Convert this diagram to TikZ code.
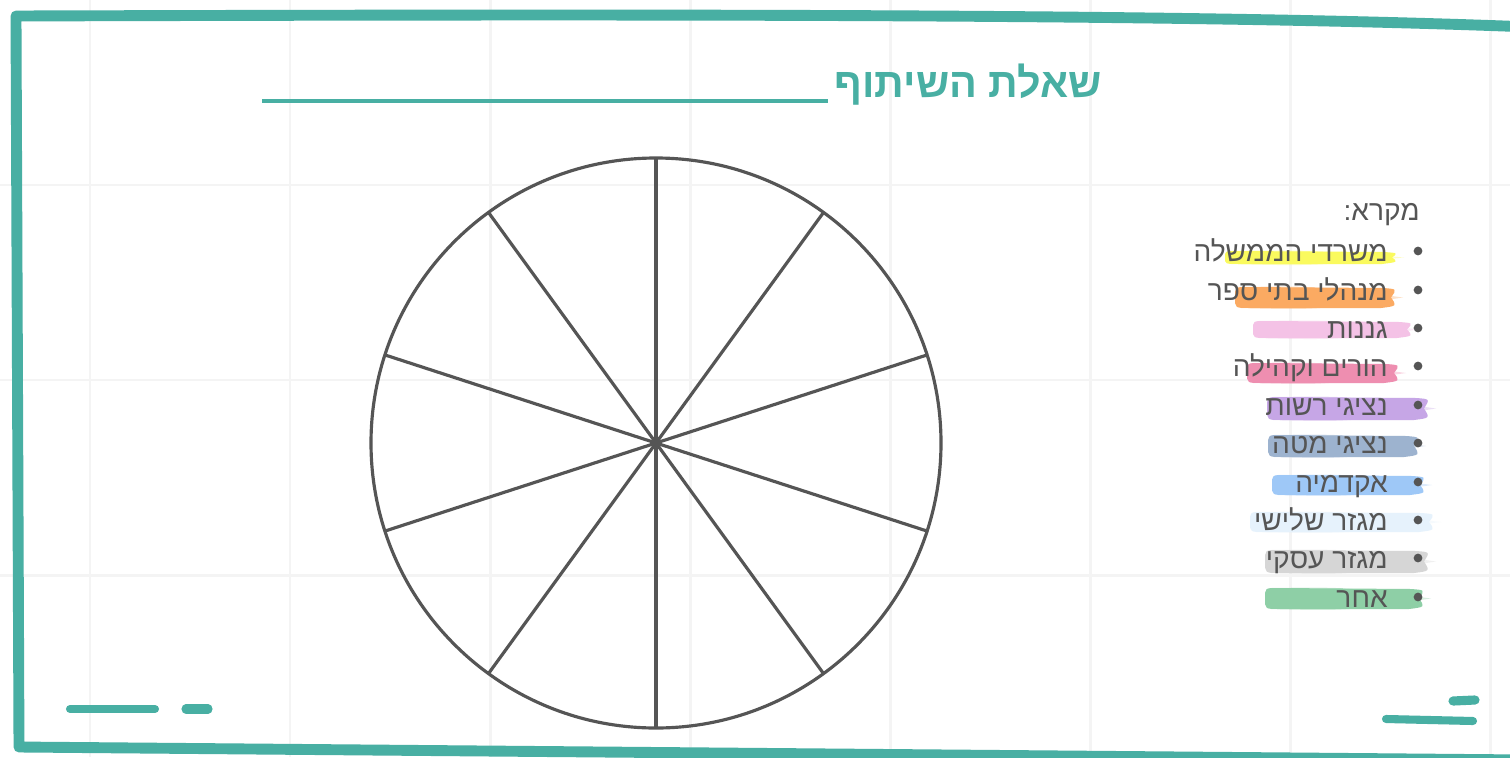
\documentclass[tikz,border=0pt]{standalone}
\usepackage{fontspec}
\setmainfont{Liberation Sans}
\newfontfamily\hebfont[Script=Hebrew]{Liberation Sans}
\TeXXeTstate=1
\definecolor{framecol}{HTML}{48AFA3}
\definecolor{inkcol}{HTML}{555555}
\definecolor{gridcol}{HTML}{F4F4F4}
\definecolor{cYellow}{HTML}{FAFA5E}
\definecolor{cOrange}{HTML}{FBAA62}
\definecolor{cLPink}{HTML}{F4C2E6}
\definecolor{cPink}{HTML}{EE8EB0}
\definecolor{cPurple}{HTML}{C6A6E6}
\definecolor{cSlate}{HTML}{9DB3CF}
\definecolor{cBlue}{HTML}{9EC8F7}
\definecolor{cPale}{HTML}{E6F2FC}
\definecolor{cGray}{HTML}{D6D6D6}
\definecolor{cGreen}{HTML}{8ECFA6}
\newcommand\brushstroke[5]{% colour, x1, x2, ytop, ybot
  \fill[#1,opacity=0.35] ({#2+6},{#4}) .. controls ({(#2+#3)/2},{#4-1}) .. ({#3+6},{(#4+#5)/2}) .. controls ({(#2+#3)/2},{#5+2}) .. ({#2+6},{#5}) -- cycle;
  \fill[#1] ({#2},{(#4+#5)/2}) .. controls ({#2},{#4}) .. ({#2+12},{#4}) -- ({#3-14},{#4+1}) .. controls ({#3},{#4+2}) .. ({#3-6},{(#4+#5)/2}) .. controls ({#3},{#5-2}) .. ({#3-16},{#5}) -- ({#2+14},{#5}) .. controls ({#2},{#5}) .. ({#2},{(#4+#5)/2}) -- cycle;
}
\tikzset{
  gridline/.style={draw=gridcol,line width=1.7pt},
  frameline/.style={draw=framecol,line width=6.2pt,line join=round,line cap=round},
  dashmark/.style={draw=framecol,line cap=round},
  spoke/.style={draw=inkcol,line width=1.8pt},
  legendtext/.style={text=inkcol,font=\hebfont\fontsize{16}{20}\selectfont,anchor=base east,inner sep=0pt},
  bulletdot/.style={circle,fill=inkcol,inner sep=0pt,minimum size=5pt},
  titletext/.style={text=framecol,font=\hebfont\bfseries\fontsize{23.5}{28}\selectfont,anchor=base east,inner sep=0pt}
}
\begin{document}
\begin{tikzpicture}[x=0.02cm,y=-0.02cm]
\useasboundingbox (0,0) rectangle (1510,757);
\fill[white] (0,0) rectangle (1510,757);
% grid
\foreach \gx in {90,290,...,1490} \draw[gridline] (\gx,0) -- (\gx,757);
\foreach \gy in {185,380,575} \draw[gridline] (0,\gy) -- (1510,\gy);
% frame
\begin{scope}
\clip (0,0) rectangle (1510,757);
\draw[frameline] (1530,27) .. controls (1200,14) and (700,14) .. (16,16) -- (19,747) -- (1530,760);
\end{scope}
% corner dashes
\draw[dashmark,line width=4.6pt] (70,709) -- (155,709);
\draw[dashmark,line width=5.2pt] (186,709) -- (208,709);
\draw[dashmark,line width=5.2pt] (1453,701) -- (1475,700);
\draw[dashmark,line width=4.6pt] (1386,719) -- (1473,721);
% title
\node[titletext] (title) at (1102,97) {\beginR שאלת השיתוף\endR};
\coordinate (ulL) at (262,101);
\coordinate (ulR) at (828,101);
\draw[draw=framecol,line width=1.8pt] (ulL) -- (ulR);
% wheel
\coordinate (c) at (656,443);
\draw[spoke] (c) circle (285);
\foreach \a in {18,54,90,126,162,198,234,270,306,342}
  \draw[spoke] (c) -- ++(\a:285);
% legend highlights
\brushstroke{cYellow}{1225}{1398}{251}{264}
\brushstroke{cOrange}{1235}{1397}{287}{308}
\brushstroke{cLPink}{1253}{1413}{321}{338}
\brushstroke{cPink}{1247}{1400}{363}{383}
\brushstroke{cPurple}{1267}{1430}{397}{420}
\brushstroke{cSlate}{1268}{1420}{435}{457}
\brushstroke{cBlue}{1272}{1426}{475}{495}
\brushstroke{cPale}{1250}{1435}{512}{532}
\brushstroke{cGray}{1265}{1430}{550}{573}
\brushstroke{cGreen}{1265}{1425}{588}{609}
% legend text
\node[legendtext] (key) at (1420,220) {\beginR מקרא:\endR};
\node[legendtext] (l1) at (1388,261) {\beginR משרדי הממשלה\endR};
\node[legendtext] (l2) at (1388,300) {\beginR מנהלי בתי ספר\endR};
\node[legendtext] (l3) at (1388,338) {\beginR גננות\endR};
\node[legendtext] (l4) at (1388,376) {\beginR הורים וקהילה\endR};
\node[legendtext] (l5) at (1388,415) {\beginR נציגי רשות\endR};
\node[legendtext] (l6) at (1388,453) {\beginR נציגי מטה\endR};
\node[legendtext] (l7) at (1388,492) {\beginR אקדמיה\endR};
\node[legendtext] (l8) at (1388,530) {\beginR מגזר שלישי\endR};
\node[legendtext] (l9) at (1388,568) {\beginR מגזר עסקי\endR};
\node[legendtext] (l10) at (1388,607) {\beginR אחר\endR};
\foreach \i/\yy in {1/251,2/290,3/328,4/366,5/405,6/443,7/482,8/520,9/558,10/597}
  \node[bulletdot] (b\i) at (1418,\yy) {};
\end{tikzpicture}
\end{document}
